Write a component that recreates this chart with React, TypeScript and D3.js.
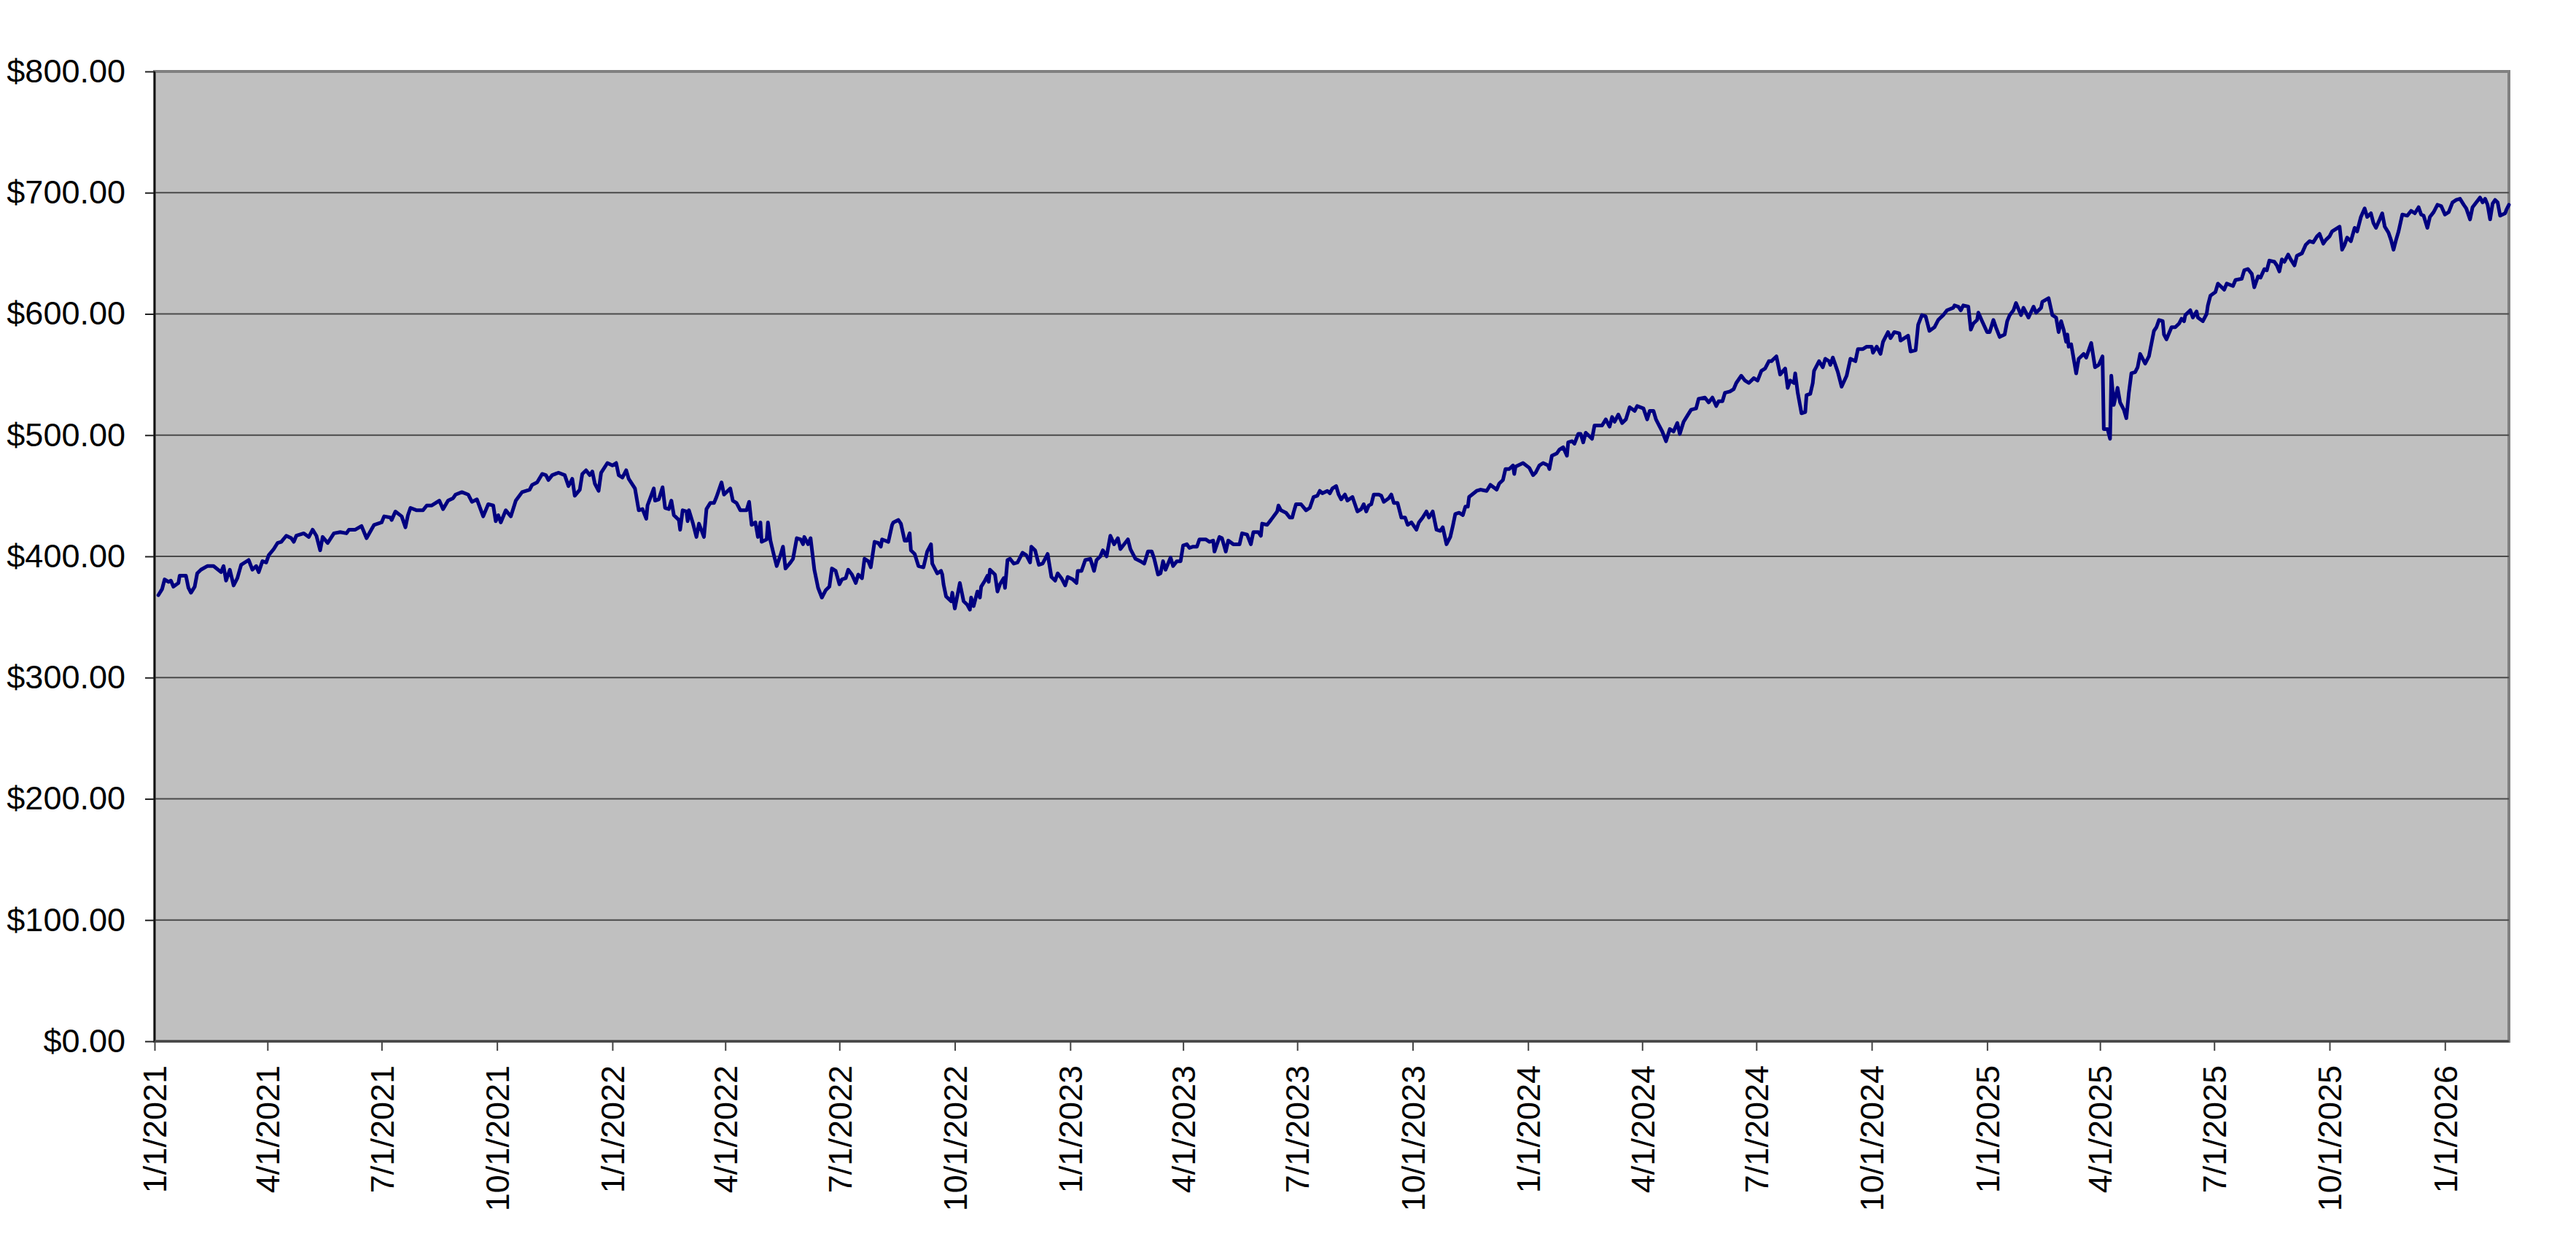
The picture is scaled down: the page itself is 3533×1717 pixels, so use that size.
import { axisBottom, axisLeft, format, line, scaleLinear, scaleUtc, select, utcFormat, utcMonth } from "d3";
import { useEffect, useRef } from "react";

// [day of year (0 = Jan 1), close]
const prices2021: [number, number][] = [
  [3, 368], [6, 373], [8, 381], [11, 379], [13, 380], [15, 375], [19, 378], [20, 384], [25, 384], [27, 374],
  [29, 370], [32, 375], [34, 386], [37, 389], [42, 392], [47, 392], [53, 387], [55, 392], [57, 380], [60, 389],
  [63, 376], [66, 382], [69, 393], [75, 397], [78, 389], [81, 392], [83, 387], [86, 396], [89, 395], [91, 401],
  [95, 406], [98, 411], [101, 412], [105, 417], [109, 415], [111, 412], [113, 417], [119, 419], [123, 416], [126, 422],
  [129, 417], [132, 405], [134, 416], [138, 411], [143, 419], [148, 420], [153, 419], [155, 422], [160, 422], [165, 425],
  [169, 415], [175, 426], [181, 428], [183, 433], [188, 432], [189, 430], [192, 437], [197, 433], [200, 424], [202, 434],
  [204, 440], [209, 438], [214, 438], [217, 442], [221, 442], [227, 446], [230, 439], [234, 446], [238, 448], [240, 451],
  [245, 453], [250, 451], [253, 445], [257, 447], [262, 433], [266, 443], [270, 442], [272, 429], [274, 434], [276, 428],
  [280, 438], [284, 433], [288, 446], [293, 453], [299, 455], [301, 459], [305, 461], [309, 468], [312, 467], [314, 463],
  [317, 467], [322, 469], [327, 467], [330, 458], [333, 464], [335, 450], [339, 455], [341, 468], [344, 471], [347, 467],
  [349, 470], [351, 460], [354, 454], [356, 469], [361, 477],
];

const prices2022: [number, number][] = [
  [0, 475], [3, 477], [5, 467], [8, 465], [11, 471], [13, 464], [18, 456], [21, 438], [24, 439], [27, 431],
  [28, 442], [33, 456], [34, 446], [37, 447], [40, 457], [42, 440], [45, 439], [47, 446], [49, 434], [53, 430],
  [54, 422], [56, 438], [59, 437], [60, 429], [61, 438], [64, 428], [67, 416], [69, 427], [73, 416], [75, 439],
  [78, 444], [81, 444], [83, 449], [87, 461], [89, 451], [94, 456], [96, 446], [99, 444], [102, 438], [107, 438],
  [109, 445], [111, 426], [114, 428], [116, 416], [118, 428], [119, 412], [123, 414], [124, 428], [126, 413], [129, 400],
  [131, 392], [134, 401], [136, 408], [138, 390], [142, 395], [144, 398], [147, 415], [150, 414], [152, 410], [153, 416],
  [156, 410], [158, 415], [161, 389], [164, 374], [167, 366], [170, 372], [173, 375], [175, 390], [178, 388], [181, 377],
  [183, 381], [186, 382], [188, 389], [191, 385], [194, 378], [196, 385], [199, 382], [201, 398], [204, 396], [206, 391],
  [209, 412], [212, 411], [214, 408], [215, 414], [220, 412], [223, 426], [224, 428], [228, 430], [230, 427], [233, 413],
  [235, 413], [237, 419], [238, 405], [241, 402], [244, 392], [248, 391], [251, 404], [254, 410], [255, 394], [259, 386],
  [262, 388], [263, 385], [264, 377], [266, 367], [270, 363], [271, 370], [273, 357], [277, 378], [280, 363], [283, 360],
  [285, 356], [286, 366], [288, 359], [291, 371], [293, 366], [294, 375], [297, 380], [299, 384], [300, 379], [301, 389],
  [305, 385], [307, 371], [309, 377], [312, 382], [313, 374], [315, 397], [317, 398], [320, 394], [323, 395], [327, 403],
  [330, 401], [333, 395], [334, 408], [337, 405], [340, 393], [343, 394], [347, 402], [350, 383], [353, 380], [355, 386],
  [358, 382], [361, 376], [363, 383],
];

const prices2023: [number, number][] = [
  [2, 381], [5, 378], [6, 388], [9, 388], [12, 397], [16, 398], [19, 388], [21, 397], [24, 400], [26, 405],
  [29, 400], [32, 417], [35, 410], [38, 415], [40, 406], [46, 414], [48, 406], [52, 398], [56, 396], [59, 394],
  [62, 404], [65, 404], [67, 398], [70, 385], [72, 386], [74, 396], [76, 389], [80, 399], [82, 392], [85, 396],
  [88, 396], [90, 409], [93, 410], [95, 407], [98, 408], [101, 408], [103, 414], [108, 414], [111, 412], [114, 413],
  [115, 404], [119, 416], [121, 415], [124, 404], [126, 413], [130, 410], [135, 410], [137, 419], [141, 418], [144, 410],
  [146, 420], [150, 420], [152, 417], [153, 427], [157, 426], [160, 430], [165, 437], [166, 442], [168, 438], [172, 436],
  [175, 432], [177, 432], [178, 436], [180, 443], [184, 443], [188, 438], [191, 440], [194, 449], [197, 450], [199, 454],
  [201, 452], [205, 454], [207, 452], [209, 456], [212, 458], [214, 451], [216, 447], [219, 451], [221, 446], [225, 449],
  [229, 437], [232, 439], [234, 443], [236, 437], [238, 442], [240, 443], [242, 451], [246, 451], [248, 450], [250, 445],
  [254, 448], [256, 451], [258, 444], [261, 444], [264, 432], [267, 432], [269, 426], [272, 428], [276, 422], [278, 428],
  [281, 432], [284, 437], [286, 432], [289, 437], [292, 422], [295, 421], [297, 424], [300, 410], [303, 416], [305, 425],
  [307, 435], [310, 436], [313, 434], [315, 441], [317, 441], [318, 449], [324, 454], [327, 455], [332, 454], [335, 459],
  [340, 455], [342, 460], [345, 463], [347, 472], [350, 472], [353, 475], [354, 468], [355, 474], [361, 477],
];

const prices2024: [number, number][] = [
  [1, 473], [4, 467], [6, 469], [9, 475], [12, 477], [16, 475], [17, 472], [19, 483], [23, 485], [25, 488],
  [28, 490], [31, 483], [32, 494], [35, 495], [37, 493], [40, 501], [42, 501], [44, 494], [46, 502], [51, 497],
  [53, 508], [56, 508], [59, 508], [62, 513], [65, 507], [67, 515], [69, 511], [72, 517], [75, 510], [78, 513],
  [81, 523], [85, 520], [87, 524], [92, 522], [95, 513], [97, 520], [100, 520], [102, 513], [104, 509], [107, 503],
  [110, 495], [113, 505], [116, 503], [119, 510], [121, 501], [124, 511], [127, 516], [130, 521], [134, 522], [136, 530],
  [141, 531], [144, 527], [147, 531], [150, 524], [152, 528], [155, 528], [157, 535], [161, 536], [164, 538], [166, 543],
  [170, 549], [173, 545], [176, 543], [180, 547], [183, 545], [186, 553], [189, 555], [192, 561], [194, 561], [198, 565],
  [201, 550], [205, 555], [207, 539], [209, 545], [212, 543], [213, 551], [215, 535], [218, 518], [221, 519], [222, 533],
  [225, 534], [227, 543], [228, 553], [232, 561], [235, 556], [237, 563], [240, 561], [241, 558], [243, 564], [247, 552],
  [250, 540], [254, 549], [257, 563], [261, 561], [263, 571], [267, 571], [270, 573], [274, 573], [275, 568], [278, 573],
  [281, 567], [283, 577], [287, 585], [289, 580], [292, 585], [296, 584], [297, 578], [303, 582], [305, 569], [309, 570],
  [311, 591], [314, 599], [317, 598], [320, 586], [324, 589], [327, 595], [331, 599], [334, 603], [339, 605], [340, 607],
  [343, 606], [345, 603], [347, 607], [351, 606], [353, 587], [355, 592], [358, 595], [359, 601], [362, 594],
];

const prices2025: [number, number][] = [
  [0, 585], [2, 585], [5, 595], [7, 589], [10, 581], [14, 583], [16, 594], [18, 599], [21, 603], [23, 609],
  [27, 599], [29, 605], [33, 597], [37, 606], [39, 601], [43, 605], [44, 610], [49, 613], [52, 599], [55, 597],
  [57, 585], [59, 594], [61, 587], [63, 577], [64, 583], [65, 573], [67, 575], [69, 563], [71, 551], [73, 563],
  [77, 567], [79, 564], [81, 570], [83, 576], [86, 556], [89, 558], [92, 565], [93, 505], [96, 505], [98, 497],
  [99, 549], [101, 525], [104, 539], [106, 527], [109, 521], [111, 514], [113, 535], [115, 551], [118, 552], [120, 556],
  [122, 567], [126, 559], [129, 565], [133, 586], [135, 589], [137, 595], [140, 594], [141, 583], [143, 579], [147, 589],
  [150, 589], [153, 592], [155, 596], [157, 594], [158, 599], [162, 603], [164, 597], [167, 602], [168, 597], [172, 594],
  [175, 600], [176, 607], [178, 615], [182, 618], [184, 625], [189, 620], [191, 625], [196, 623], [198, 628], [203, 629],
  [205, 636], [208, 637], [211, 633], [213, 622], [216, 631], [218, 630], [221, 637], [223, 636], [225, 644], [229, 643],
  [231, 640], [233, 635], [235, 645], [237, 643], [240, 649], [242, 645], [245, 640], [247, 648], [251, 650], [254, 657],
  [257, 660], [260, 659], [263, 664], [265, 666], [268, 658], [270, 661], [273, 664], [275, 668], [278, 670], [281, 672],
  [283, 653], [285, 657], [287, 663], [290, 660], [293, 671], [295, 668], [298, 680], [301, 687], [303, 680], [306, 683],
  [308, 675], [310, 671], [313, 678], [315, 683], [317, 672], [320, 667], [322, 661], [324, 653], [326, 661], [328, 668],
  [331, 682], [335, 681], [338, 685], [341, 683], [344, 688], [346, 682], [348, 681], [351, 671], [353, 680], [356, 684],
  [359, 690], [362, 689],
];

const prices2026: [number, number][] = [
  [0, 682], [3, 684], [6, 692], [9, 694], [12, 695], [15, 690], [17, 687], [20, 678], [22, 688], [25, 692],
  [28, 696], [30, 692], [32, 695], [34, 690], [36, 678], [38, 691], [40, 694], [42, 692], [44, 681], [48, 683],
  [49, 686], [51, 690],
];

const yTicks = [0, 100, 200, 300, 400, 500, 600, 700, 800];

const series = [
  { year: 2021, prices: prices2021 },
  { year: 2022, prices: prices2022 },
  { year: 2023, prices: prices2023 },
  { year: 2024, prices: prices2024 },
  { year: 2025, prices: prices2025 },
  { year: 2026, prices: prices2026 },
];

type Point = { date: Date; close: number };

const data: Point[] = series.flatMap(({ year, prices }) =>
  prices.map(([day, close]) => ({ date: new Date(Date.UTC(year, 0, 1 + day)), close })),
);

const WIDTH = 3533;
const HEIGHT = 1717;
const FONT = "'Liberation Sans', Arial, Helvetica, sans-serif";

export default function App() {
  const svgRef = useRef<SVGSVGElement | null>(null);

  useEffect(() => {
    if (!svgRef.current) return;
    const svg = select(svgRef.current);
    svg.selectAll("*").remove();

    const margin = { top: 98, right: 92, bottom: 289, left: 212 };
    const innerWidth = WIDTH - margin.left - margin.right;
    const innerHeight = HEIGHT - margin.top - margin.bottom;

    const start = new Date(Date.UTC(2021, 0, 1));
    const end = data[data.length - 1].date;
    const x = scaleUtc().domain([start, end]).range([0, innerWidth]);
    const y = scaleLinear().domain([0, 800]).range([innerHeight, 0]);

    const chart = svg.append("g").attr("transform", `translate(${margin.left},${margin.top})`);

    // plot area
    chart
      .append("rect")
      .attr("x", 0)
      .attr("y", 0)
      .attr("width", innerWidth)
      .attr("height", innerHeight)
      .attr("fill", "#c0c0c0")
      .attr("stroke", "#808080")
      .attr("stroke-width", 4);

    // gridlines
    chart
      .append("g")
      .selectAll("line")
      .data(yTicks.filter((t) => t > 0 && t < 800))
      .join("line")
      .attr("x1", 0)
      .attr("x2", innerWidth)
      .attr("y1", (d) => y(d))
      .attr("y2", (d) => y(d))
      .attr("stroke", "#4a4a4a")
      .attr("stroke-width", 2);

    // price line
    const path = line<Point>()
      .x((d) => x(d.date))
      .y((d) => y(d.close));
    chart
      .append("path")
      .datum(data)
      .attr("d", path)
      .attr("fill", "none")
      .attr("stroke", "#000080")
      .attr("stroke-width", 5)
      .attr("stroke-linejoin", "round")
      .attr("stroke-linecap", "round");

    // y axis
    const yAxis = axisLeft(y)
      .tickValues(yTicks)
      .tickSize(13)
      .tickPadding(27)
      .tickFormat((d) => format("$,.2f")(d as number));
    const yAxisGroup = chart.append("g").call(yAxis);
    yAxisGroup.select(".domain").remove();
    yAxisGroup.selectAll("line").attr("stroke", "#222").attr("stroke-width", 2);
    yAxisGroup
      .selectAll("text")
      .attr("fill", "#000")
      .style("font-family", FONT)
      .style("font-size", "45px");
    chart
      .append("line")
      .attr("x1", 0)
      .attr("x2", 0)
      .attr("y1", 0)
      .attr("y2", innerHeight)
      .attr("stroke", "#111")
      .attr("stroke-width", 2.5);

    // x axis
    const xTicks = utcMonth.every(3)!.range(start, new Date(Date.UTC(2026, 0, 2)));
    const xAxis = axisBottom(x)
      .tickValues(xTicks)
      .tickSize(13)
      .tickFormat((d) => utcFormat("%-m/%-d/%Y")(d as Date));
    const xAxisGroup = chart
      .append("g")
      .attr("transform", `translate(0,${innerHeight})`)
      .call(xAxis);
    xAxisGroup.select(".domain").remove();
    xAxisGroup.selectAll("line").attr("stroke", "#444").attr("stroke-width", 2);
    xAxisGroup
      .selectAll("text")
      .attr("fill", "#000")
      .attr("x", -33)
      .attr("y", 0)
      .attr("dy", "0.35em")
      .attr("transform", "rotate(-90)")
      .style("text-anchor", "end")
      .style("font-family", FONT)
      .style("font-size", "45px");
    chart
      .append("line")
      .attr("x1", 0)
      .attr("x2", innerWidth)
      .attr("y1", innerHeight)
      .attr("y2", innerHeight)
      .attr("stroke", "#444")
      .attr("stroke-width", 3);
  }, []);

  return (
    <svg
      ref={svgRef}
      width={WIDTH}
      height={HEIGHT}
      viewBox={`0 0 ${WIDTH} ${HEIGHT}`}
      style={{ position: "absolute", left: 0, top: 0, background: "#fff" }}
    />
  );
}
